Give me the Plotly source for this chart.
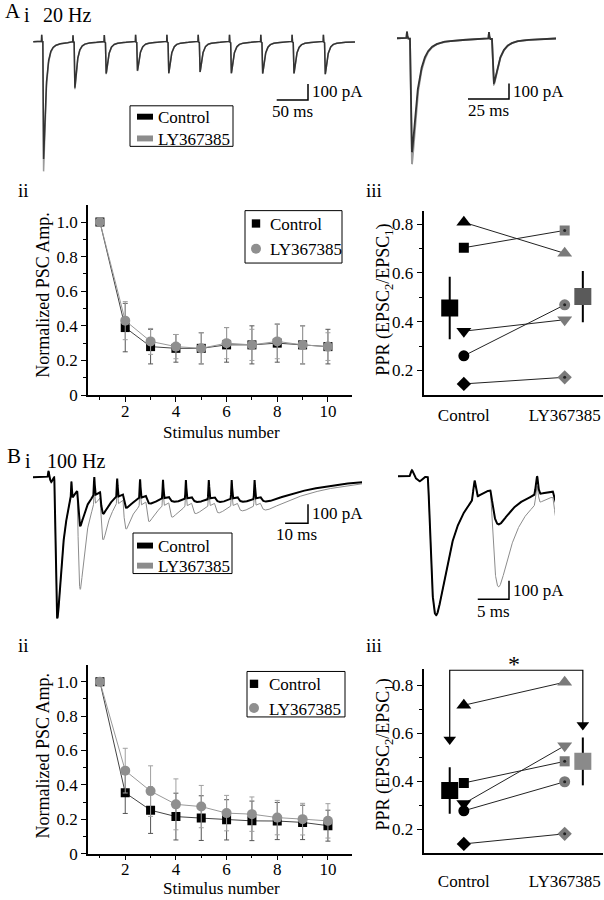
import numpy as np
import plotly.graph_objects as go

W, H = 604, 900
SERIF = "Liberation Serif"

# ---------------- data: normalized PSC amplitude (panels ii) ----------------
stimulus = [1, 2, 3, 4, 5, 6, 7, 8, 9, 10]
stim_ticks = [2, 4, 6, 8, 10]

ctrl_20 = [1.00, 0.39, 0.28, 0.27, 0.27, 0.29, 0.29, 0.30, 0.29, 0.28]
ctrl_20_err = [0.00, 0.14, 0.10, 0.08, 0.09, 0.10, 0.11, 0.11, 0.11, 0.10]
ly_20 = [1.00, 0.43, 0.31, 0.28, 0.27, 0.30, 0.29, 0.31, 0.29, 0.28]
ly_20_err = [0.00, 0.11, 0.075, 0.07, 0.09, 0.09, 0.09, 0.10, 0.11, 0.08]

ctrl_100 = [1.00, 0.354, 0.253, 0.216, 0.207, 0.197, 0.191, 0.190, 0.182, 0.163]
ctrl_100_err = [0.00, 0.12, 0.135, 0.136, 0.13, 0.117, 0.115, 0.108, 0.10, 0.09]
ly_100 = [1.00, 0.483, 0.364, 0.287, 0.274, 0.236, 0.230, 0.210, 0.201, 0.191]
ly_100_err = [0.00, 0.13, 0.147, 0.148, 0.123, 0.103, 0.10, 0.10, 0.092, 0.10]

# ---------------- data: paired-pulse ratio (panels iii) ----------------
conditions = ["Control", "LY367385"]
ppr_20_ctrl = [0.807, 0.703, 0.361, 0.260, 0.145]
ppr_20_ly = [0.680, 0.774, 0.408, 0.469, 0.172]
ppr_20_mean = [0.456, 0.503]
ppr_20_err = [0.128, 0.105]
ppr_100_ctrl = [0.716, 0.392, 0.306, 0.276, 0.138]
ppr_100_ly = [0.812, 0.482, 0.547, 0.397, 0.180]
ppr_100_mean = [0.361, 0.482]
ppr_100_err = [0.097, 0.100]

# ---------------- data: example traces (panels i), pA ----------------
isi_20 = 50.0
epsc_20_ctrl = [740, 290, 200, 182, 198, 190, 198, 200, 200, 205]
epsc_20_ly = [819, 300, 205, 185, 200, 192, 200, 202, 200, 205]
slow_20_ctrl = [50, 22, 18, 17, 18, 17, 18, 18, 18, 18]
slow_20_ly = [52, 22, 18, 17, 18, 17, 18, 18, 18, 18]
artifact_20 = [45, 45, 45, 45, 45, 45, 45, 45, 45, 45]

isi_100 = 10.0
epsc_100_ctrl = [749, 258, 193, 161, 138, 126, 114, 105, 96, 103]
epsc_100_ly = [749, 596, 333, 275, 235, 211, 191, 187, 175, 170]
slow_100_ctrl = [55, 46, 44, 42, 41, 40, 39, 38, 38, 37]
slow_100_ly = [55, 68, 60, 56, 54, 53, 52, 51, 50, 49]
artifact_100 = [35, 100, 100, 100, 100, 100, 100, 100, 100, 100]


# ---------------- trace synthesis from per-pulse amplitudes ----------------
S_GRID = np.linspace(0, 80, 80001)


def kernel(s, tr, td, power=2):
    g = (1 - np.exp(-S_GRID / tr)) ** power * np.exp(-S_GRID / td)
    i = int(np.argmax(g))
    s = np.clip(s, 0, None)
    return (1 - np.exp(-s / tr)) ** power * np.exp(-s / td) / g[i], S_GRID[i]


def build_trace(t, isi, peaks, slows, arts, lat, tr, td, tsr, tsd, first_dip=0.0):
    depth = np.zeros_like(t)
    for i, (pk, sl) in enumerate(zip(peaks, slows)):
        t0 = i * isi + lat
        f, tpk = kernel(t - t0, tr, td)
        h, _ = kernel(t - t0, tsr, tsd, power=1)
        j = min(np.searchsorted(t, t0 + tpk), len(t) - 1)
        amp = max(pk - depth[j] - sl * h[j], 5.0)
        depth = depth + amp * f + sl * h
    art = np.zeros_like(t)
    for i, a in enumerate(arts):
        art += a * np.exp(-0.5 * ((t - i * isi) / 0.18) ** 2)
    art -= first_dip * np.exp(-0.5 * ((t - 1.2) / 0.4) ** 2)
    return (-depth + art).astype(np.float32)


t20 = np.arange(-13.5, 500.5, 0.05)
t100 = np.arange(-6.8, 137.5, 0.02)
tr20_ctrl = build_trace(t20, isi_20, epsc_20_ctrl, slow_20_ctrl, artifact_20, 1.8, 0.4, 3.5, 2.0, 15.0)
tr20_ly = build_trace(t20, isi_20, epsc_20_ly, slow_20_ly, artifact_20, 1.8, 0.4, 3.5, 2.0, 15.0)
tr100_ctrl = build_trace(t100, isi_100, epsc_100_ctrl, slow_100_ctrl, artifact_100, 2.5, 0.6, 2.4, 2.0, 25.0, 25.0)
tr100_ly = build_trace(t100, isi_100, epsc_100_ly, slow_100_ly, artifact_100, 2.5, 0.6, 2.4, 2.0, 25.0, 25.0)
t20 = t20.astype(np.float32)
t100 = t100.astype(np.float32)

# ---------------- helpers ----------------
def dom_x(x0, x1):
    return [x0 / W, x1 / W]


def dom_y(y0, y1):
    return [1 - y1 / H, 1 - y0 / H]


def px(x):
    return x / W


def py(y):
    return 1 - y / H


fig = go.Figure()
layout = dict(
    width=W, height=H, margin=dict(l=0, r=0, t=0, b=0),
    paper_bgcolor="white", plot_bgcolor="rgba(0,0,0,0)", showlegend=False,
    font=dict(family=SERIF, size=17, color="black"),
)
shapes = []
annotations = []


def ann(text, x, y, size=17, xanchor="left", yanchor="middle", angle=0):
    annotations.append(dict(text=text, x=px(x), y=py(y), xref="paper", yref="paper",
                            xanchor=xanchor, yanchor=yanchor, showarrow=False,
                            textangle=angle, font=dict(family=SERIF, size=size, color="#000000")))


def rect_px(x0, y0, x1, y1, fill=None, line_w=1.0, line_c="black", kind="rect"):
    shapes.append(dict(type=kind, xref="paper", yref="paper", x0=px(x0), x1=px(x1),
                       y0=py(y1), y1=py(y0), fillcolor=fill or "rgba(0,0,0,0)",
                       line=dict(width=line_w, color=line_c), layer="above"))


# ---------------- panels i: traces ----------------
CTRL_A, LY_A = "#333333", "#9a9a9a"
# idx, box(x0,y0,x1,y1), t0_px, base_px, px/ms, px/pA, time, ctrl, ly, widths, scalebar
trace_panels = [
    (1, (33, 26, 356, 182), 41.7, 42.3, 0.626, 0.16, t20, tr20_ctrl, tr20_ly, (1.5, 1.5), (308, 101, 50, "50 ms")),
    (2, (397, 22, 556, 178), 407.0, 39.0, 1.64, 0.155, t20, tr20_ctrl, tr20_ly, (1.8, 1.8), (509, 100, 25, "25 ms")),
    (3, (33, 462, 362, 640), 48.5, 482.7, 2.29, 0.19, t100, tr100_ctrl, tr100_ly, (2.0, 1.0), (308, 529, 10, "10 ms")),
    (4, (398, 462, 555, 632), 412.0, 482.0, 6.25, 0.187, t100, tr100_ctrl, tr100_ly, (2.0, 1.0), (509, 606, 5, "5 ms")),
]
for idx, (x0, y0, x1, y1), t0px, base, ppms, pppa, tt, yc, yl, (wc, wl), sb in trace_panels:
    xr = [(x0 - t0px) / ppms, (x1 - t0px) / ppms]
    yr = [-(y1 - base) / pppa, (base - y0) / pppa]
    sfx = "" if idx == 1 else str(idx)
    layout["xaxis" + sfx] = dict(domain=dom_x(x0, x1), range=xr, visible=False, anchor="y" + sfx)
    layout["yaxis" + sfx] = dict(domain=dom_y(y0, y1), range=yr, visible=False, anchor="x" + sfx)
    fig.add_trace(go.Scatter(x=tt, y=yl, mode="lines", line=dict(color="#8c8c8c" if idx > 2 else LY_A, width=wl),
                             xaxis="x" + sfx, yaxis="y" + sfx, hoverinfo="skip"))
    fig.add_trace(go.Scatter(x=tt, y=yc, mode="lines", line=dict(color="black" if idx > 2 else CTRL_A, width=wc),
                             xaxis="x" + sfx, yaxis="y" + sfx, hoverinfo="skip"))
    cx, cy, lms, lab = sb
    tc = (cx - t0px) / ppms
    ic = -(cy - base) / pppa
    shapes.append(dict(type="path", xref="x" + sfx, yref="y" + sfx,
                       path=f"M{tc - lms},{ic} L{tc},{ic} L{tc},{ic + 100}",
                       line=dict(color="black", width=1.5)))
    ann("100 pA", cx + 2, cy - 100 * pppa / 2, size=17)
    ann(lab, cx - lms * ppms / 2, cy + 12, size=17, xanchor="center")

# legends for trace panels
for (bx0, by0, bx1, by1), rows in [((130, 107, 233, 148), [(118, "black"), (140, "#8c8c8c")]),
                                   ((133, 539, 232, 580), [(551.7, "black"), (572, "#8c8c8c")])]:
    rect_px(bx0, by0, bx1, by1, fill="white", line_w=1.0)
    for (ry, col), name in zip(rows, conditions):
        rect_px(137, ry - 3, 153, ry + 3, fill=col, line_w=0, line_c=col)
        ann(name, 156, ry + 1, size=17)

# panel labels
ann("A", 3, 11.5, size=21)
ann("i", 22, 15, size=20)
ann("20 Hz", 41, 15, size=20)
ann("B", 5, 460.7, size=21)
ann("i", 23, 466, size=20)
ann("100 Hz", 45, 466, size=20)
ann("ii", 16, 193, size=19)
ann("iii", 364, 193, size=19)
ann("ii", 16, 653, size=19)
ann("iii", 364, 653, size=19)

# ---------------- panels ii: normalized amplitude ----------------
tick_font = dict(family=SERIF, size=17, color="black")
axis_common = dict(showline=True, linecolor="black", linewidth=1.5, showgrid=False, zeroline=False,
                   ticks="outside", ticklen=5, tickwidth=1.2, tickcolor="black", tickfont=tick_font)
for idx, (ytop, ybot), cdat, cerr, ldat, lerr, (lgbox, lgrows, mx, tx), ytitle_y, xtitle_y, xstand in [
    (5, (207, 399.5), ctrl_20, ctrl_20_err, ly_20, ly_20_err, ((245, 213, 342, 266), (226, 251.5), 256, 268), 298, 437, -5),
    (7, (672, 863.3), ctrl_100, ctrl_100_err, ly_100, ly_100_err, ((247, 679, 345, 725), (691.5, 716), 254, 267), 764, 898, -6),
]:
    sfx = str(idx)
    layout["xaxis" + sfx] = dict(axis_common, domain=dom_x(88, 352), range=[0.53, 10.95], anchor="y" + sfx,
                                 tickvals=stim_ticks, ticklabelstandoff=xstand,
                                 minor=dict(tickvals=[1, 3, 5, 7, 9], ticklen=3, tickwidth=1.2,
                                            tickcolor="black", ticks="outside"))
    layout["yaxis" + sfx] = dict(axis_common, domain=dom_y(ytop, ybot), range=[0, 1.1], anchor="x" + sfx,
                                 tickvals=[0, 0.2, 0.4, 0.6, 0.8, 1.0],
                                 ticktext=["0", "0.2", "0.4", "0.6", "0.8", "1.0"],
                                 minor=dict(tickvals=[0.1, 0.3, 0.5, 0.7, 0.9], ticklen=3, tickwidth=1.2,
                                            tickcolor="black", ticks="outside"))
    fig.add_trace(go.Scatter(x=stimulus, y=cdat, mode="lines+markers", xaxis="x" + sfx, yaxis="y" + sfx,
                             line=dict(color="#444444", width=1),
                             marker=dict(symbol="square", size=9, color="black"),
                             error_y=dict(type="data", array=cerr, color="#555555", thickness=1, width=2.5),
                             hoverinfo="skip"))
    fig.add_trace(go.Scatter(x=stimulus, y=ldat, mode="lines+markers", xaxis="x" + sfx, yaxis="y" + sfx,
                             line=dict(color="#999999", width=1),
                             marker=dict(symbol="circle", size=10, color="#8f8f8f"),
                             error_y=dict(type="data", array=lerr, color="#a0a0a0", thickness=1, width=2.5),
                             hoverinfo="skip"))
    ann("Normalized PSC Amp.", 43, ytitle_y, size=18, xanchor="center", angle=-90)
    ann("Stimulus number", 221, xtitle_y, size=17, xanchor="center")
    # legend
    bx0, by0, bx1, by1 = lgbox
    rect_px(bx0, by0, bx1, by1, fill="white", line_w=1.0)
    r1, r2 = lgrows
    rect_px(mx - 4.2, r1 - 4.2, mx + 4.2, r1 + 4.2, fill="black", line_w=0)
    rect_px(mx - 5, r2 - 5, mx + 5, r2 + 5, fill="#8f8f8f", line_w=0, line_c="#8f8f8f", kind="circle")
    ann(conditions[0], tx, r1 + 1, size=17)
    ann(conditions[1], tx, r2 + 1, size=17)

# ---------------- panels iii: paired-pulse ratio ----------------
cell_symbols = ["triangle-up", "square", "triangle-down", "circle", "diamond"]
cell_sizes = [13, 10, 13, 11, 11]
cell_dot = [False, True, False, True, True]
for idx, (ytop, ybot), yrng, cdat, ldat, mdat, edat, lab_standoff, ytitle_y, ly_sum_col in [
    (6, (213, 399.3), [0.1, 0.855], ppr_20_ctrl, ppr_20_ly, ppr_20_mean, ppr_20_err, 4, 303, "#5a5a5a"),
    (8, (677, 862.6), [0.1, 0.865], ppr_100_ctrl, ppr_100_ly, ppr_100_mean, ppr_100_err, 12, 763, "#8a8a8a"),
]:
    sfx = str(idx)
    layout["xaxis" + sfx] = dict(axis_common, domain=dom_x(423.5, 603), range=[0.6, 2.38], anchor="y" + sfx,
                                 tickvals=[1, 2], ticktext=conditions, ticks="", ticklabelstandoff=lab_standoff)
    layout["yaxis" + sfx] = dict(axis_common, domain=dom_y(ytop, ybot), range=yrng, anchor="x" + sfx,
                                 tickvals=[0.2, 0.4, 0.6, 0.8], ticktext=["0.2", "0.4", "0.6", "0.8"],
                                 minor=dict(tickvals=[0.3, 0.5, 0.7], ticklen=3, tickwidth=1.2,
                                            tickcolor="black", ticks="outside"))
    for k in range(len(cdat)):
        fig.add_trace(go.Scatter(x=[1, 2], y=[cdat[k], ldat[k]], mode="lines+markers",
                                 xaxis="x" + sfx, yaxis="y" + sfx,
                                 line=dict(color="#222222", width=1),
                                 marker=dict(symbol=cell_symbols[k], size=cell_sizes[k],
                                             color=["black", "#7a7a7a"], line=dict(width=0)),
                                 hoverinfo="skip"))
    fig.add_trace(go.Scatter(x=[2] * sum(cell_dot), y=[v for v, d in zip(ldat, cell_dot) if d], mode="markers",
                             xaxis="x" + sfx, yaxis="y" + sfx,
                             marker=dict(symbol="circle", size=3, color="#222222"), hoverinfo="skip"))
    fig.add_trace(go.Scatter(x=[1 - 0.14, 2 + 0.18], y=mdat, mode="markers", xaxis="x" + sfx, yaxis="y" + sfx,
                             marker=dict(symbol="square", size=17, color=["black", ly_sum_col], line=dict(width=0)),
                             error_y=dict(type="data", array=edat, color="black", thickness=2, width=0),
                             hoverinfo="skip"))
    ann("PPR (EPSC<sub>2</sub>/EPSC<sub>1</sub>)", 385, ytitle_y, size=18, xanchor="center", angle=-90)

# significance bracket (B iii)
bracket_y = 0.862
arrow_y = [0.573, 0.634]
bx = [1 - 0.14, 2 + 0.18]
fig.add_trace(go.Scatter(x=[bx[0], bx[0], bx[1], bx[1]], y=[arrow_y[0], bracket_y, bracket_y, arrow_y[1]],
                         mode="lines", xaxis="x8", yaxis="y8", line=dict(color="black", width=1.2),
                         hoverinfo="skip"))
fig.add_trace(go.Scatter(x=bx, y=arrow_y, mode="markers", xaxis="x8", yaxis="y8",
                         marker=dict(symbol="triangle-down", size=11, color="black"), hoverinfo="skip"))
ann("*", 514, 671, size=24, xanchor="center")

layout["shapes"] = shapes
layout["annotations"] = annotations
fig.update_layout(**layout)
fig.write_html("out.html", config={"displayModeBar": False},
               post_script="document.body.style.margin='0';document.body.style.padding='0';"
                           "document.documentElement.style.overflow='hidden';")
